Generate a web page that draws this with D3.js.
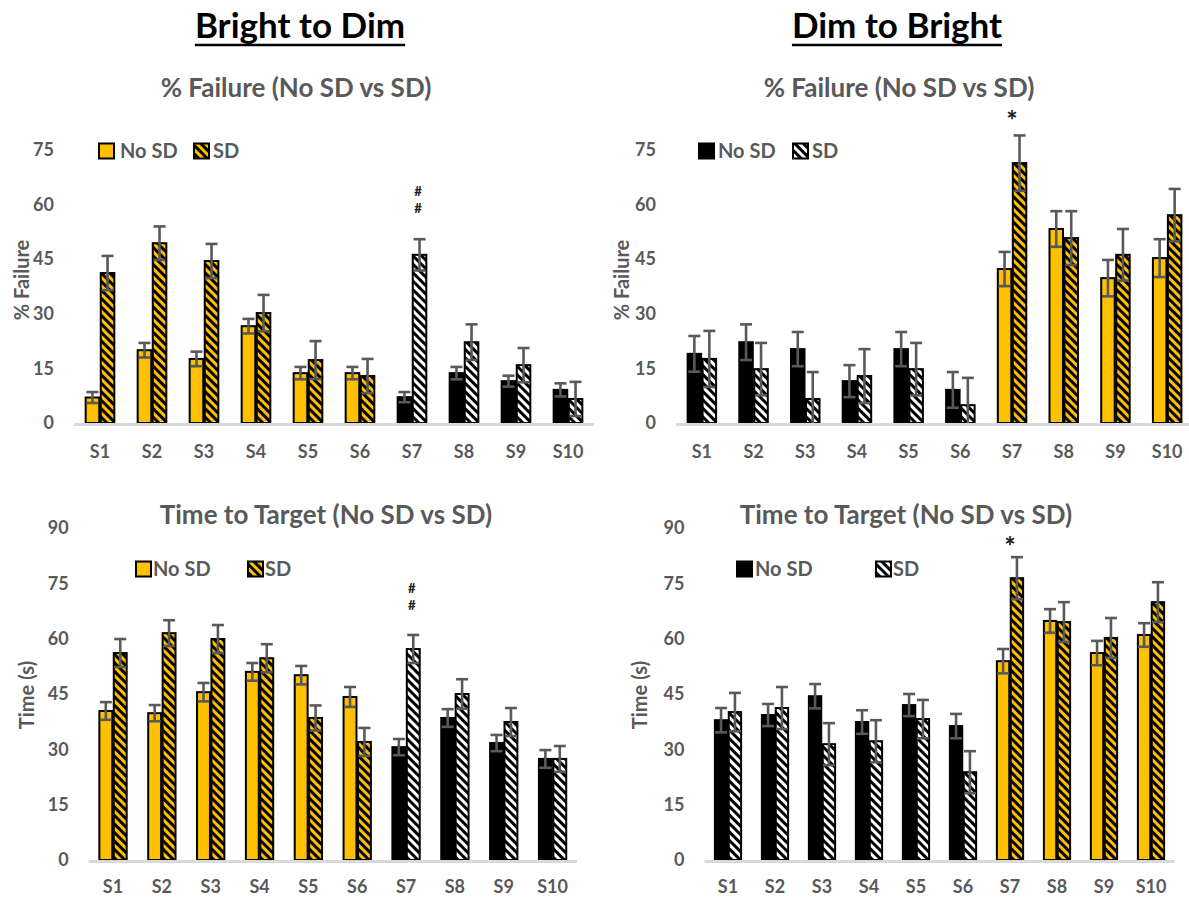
<!DOCTYPE html>
<html>
<head>
<meta charset="utf-8">
<script src="https://cdn.jsdelivr.net/npm/d3@7"></script>
<style>
  html, body { margin: 0; padding: 0; background: #fff; }
  svg { display: block; font-family: Lato, "Open Sans", sans-serif; }
</style>
</head>
<body>
<svg id="chart" width="1189" height="898"></svg>
<script>
// ---------- DATA ----------
const categories = ["S1","S2","S3","S4","S5","S6","S7","S8","S9","S10"];
const seriesNames = ["No SD","SD"];
const failureTicks = [0,15,30,45,60,75];
const timeTicks = [0,15,30,45,60,75,90];

// Bright to Dim – % Failure
const bdFailNoSD    = [7.0, 20.0, 17.6, 26.6, 13.7, 13.7, 7.1, 13.7, 11.5, 9.1];
const bdFailNoSDErr = [1.5, 2.0, 2.0, 2.0, 1.7, 1.7, 1.4, 1.7, 1.5, 1.8];
const bdFailSD      = [41.2, 49.4, 44.5, 30.2, 17.3, 12.9, 46.2, 22.2, 15.9, 6.6];
const bdFailSDErr   = [4.7, 4.6, 4.7, 5.0, 5.2, 4.7, 4.3, 4.9, 4.7, 4.7];

// Dim to Bright – % Failure
const dbFailNoSD    = [19.0, 22.2, 20.3, 11.5, 20.3, 9.1, 42.3, 53.3, 39.8, 45.3];
const dbFailNoSDErr = [4.9, 4.9, 4.7, 4.4, 4.7, 4.9, 4.7, 4.9, 5.0, 5.2];
const dbFailSD      = [17.6, 14.8, 6.6, 12.9, 14.8, 4.9, 71.4, 50.8, 46.2, 57.1];
const dbFailSDErr   = [7.7, 7.2, 7.4, 7.4, 7.2, 7.5, 7.6, 7.4, 7.1, 7.2];

// Bright to Dim – Time to Target
const bdTimeNoSD    = [40.4, 39.8, 45.5, 51.0, 50.1, 44.2, 30.6, 38.5, 31.7, 27.4];
const bdTimeNoSDErr = [2.4, 2.2, 2.5, 2.4, 2.5, 2.7, 2.2, 2.4, 2.2, 2.4];
const bdTimeSD      = [56.1, 61.5, 59.9, 54.7, 38.5, 32.0, 57.2, 45.0, 37.4, 27.4];
const bdTimeSDErr   = [3.8, 3.5, 3.8, 3.8, 3.4, 3.8, 3.8, 4.0, 3.8, 3.5];

// Dim to Bright – Time to Target
const dbTimeNoSD    = [37.9, 39.3, 44.4, 37.4, 42.0, 36.3, 53.9, 64.8, 56.1, 61.0];
const dbTimeNoSDErr = [3.3, 3.0, 3.3, 3.2, 3.0, 3.3, 3.3, 3.2, 3.3, 3.2];
const dbTimeSD      = [40.1, 41.2, 31.4, 32.2, 38.2, 23.8, 76.4, 64.5, 60.2, 69.9];
const dbTimeSDErr   = [5.2, 5.7, 5.7, 5.7, 5.2, 5.7, 5.7, 5.4, 5.4, 5.4];

// categories drawn in the orange style in each condition
const bdOrangeCats = ["S1","S2","S3","S4","S5","S6"];
const dbOrangeCats = ["S7","S8","S9","S10"];

// significance marks: [category, lines of label, value-position of first line]
const bdFailMarks = [["S7", ["#","#"], 63.8]];
const dbFailMarks = [["S7", ["*"], 83.8]];
const bdTimeMarks = [["S7", ["#","#"], 73.6]];
const dbTimeMarks = [["S7", ["*"], 85.6]];

// ---------- STYLE ----------
const ORANGE = "#FFC000";
const GREY_TXT = "#595959";
const ERR = "#595959";
const AXIS = "#d9d9d9";

const svg = d3.select("#chart");
const defs = svg.append("defs");
function stripe(id, bg) {
  const p = defs.append("pattern").attr("id", id)
    .attr("patternUnits", "userSpaceOnUse")
    .attr("width", 6).attr("height", 6)
    .attr("patternTransform", "rotate(45)");
  p.append("rect").attr("width", 6).attr("height", 6).attr("fill", bg);
  p.append("rect").attr("width", 6).attr("height", 3).attr("fill", "#000");
}
stripe("stripeOrange", ORANGE);
stripe("stripeWhite", "#fff");

// ---------- TITLES ----------
function title(text, cx, y) {
  const t = svg.append("text").attr("x", cx).attr("y", y)
    .attr("text-anchor", "middle").attr("font-size", 35).attr("font-weight", 700)
    .attr("fill", "#000").text(text);
  const w = t.node().getComputedTextLength();
  svg.append("line").attr("x1", cx - w/2).attr("x2", cx + w/2)
    .attr("y1", y + 7).attr("y2", y + 7).attr("stroke", "#000").attr("stroke-width", 2.5);
}
title("Bright to Dim", 300, 38);
title("Dim to Bright", 897, 38);

// ---------- PANELS ----------
const panels = [
  { x0: 74, x1: 594, yBase: 423, yTop: 150, dmax: 75, ticks: failureTicks, pad: 0.42,
    noSD: bdFailNoSD, noSDErr: bdFailNoSDErr, sd: bdFailSD, sdErr: bdFailSDErr,
    orange: bdOrangeCats, marks: bdFailMarks,
    title: "% Failure (No SD vs SD)", titleX: 296, titleY: 97,
    yLabel: "% Failure", yLabelX: 22, yLabelY: 280,
    legend: { y: 151, sw1: 99, t1: 120, sw2: 194, t2: 213 }, xLabY: 22 },
  { x0: 676, x1: 1193, yBase: 423, yTop: 150, dmax: 75, ticks: failureTicks, pad: 0.42,
    noSD: dbFailNoSD, noSDErr: dbFailNoSDErr, sd: dbFailSD, sdErr: dbFailSDErr,
    orange: dbOrangeCats, marks: dbFailMarks,
    title: "% Failure (No SD vs SD)", titleX: 899, titleY: 97,
    yLabel: "% Failure", yLabelX: 622, yLabelY: 280,
    legend: { y: 151, sw1: 699, t1: 718, sw2: 793, t2: 812 }, xLabY: 22 },
  { x0: 88.6, x1: 577, yBase: 860, yTop: 528, dmax: 90, ticks: timeTicks, pad: 0.41,
    noSD: bdTimeNoSD, noSDErr: bdTimeNoSDErr, sd: bdTimeSD, sdErr: bdTimeSDErr,
    orange: bdOrangeCats, marks: bdTimeMarks,
    title: "Time to Target (No SD vs SD)", titleX: 326, titleY: 524,
    yLabel: "Time (s)", yLabelX: 27, yLabelY: 695,
    legend: { y: 569, sw1: 136, t1: 153, sw2: 248, t2: 265 }, xLabY: 20 },
  { x0: 704.5, x1: 1174.5, yBase: 860, yTop: 528, dmax: 90, ticks: timeTicks, pad: 0.41,
    noSD: dbTimeNoSD, noSDErr: dbTimeNoSDErr, sd: dbTimeSD, sdErr: dbTimeSDErr,
    orange: dbOrangeCats, marks: dbTimeMarks,
    title: "Time to Target (No SD vs SD)", titleX: 906, titleY: 524,
    yLabel: "Time (s)", yLabelX: 640, yLabelY: 695,
    legend: { y: 569, sw1: 737, t1: 755, sw2: 876, t2: 893 }, xLabY: 20 }
];

panels.forEach(p => {
  const g = svg.append("g");
  const x = d3.scaleBand().domain(categories).range([p.x0, p.x1])
    .paddingInner(p.pad).paddingOuter(p.pad / 2);
  const xs = d3.scaleBand().domain(seriesNames).range([0, x.bandwidth()]);
  const y = d3.scaleLinear().domain([0, p.dmax]).range([p.yBase, p.yTop]);

  // subtitle
  g.append("text").attr("x", p.titleX).attr("y", p.titleY).attr("text-anchor", "middle")
    .attr("font-size", 26).attr("font-weight", 700).attr("fill", GREY_TXT).text(p.title);

  // y axis (labels only)
  const ya = g.append("g").attr("transform", `translate(${p.x0},0)`)
    .call(d3.axisLeft(y).tickValues(p.ticks).tickSize(0).tickPadding(20).tickFormat(d3.format("d")));
  ya.select(".domain").remove();
  ya.selectAll("text").attr("font-size", 18).attr("font-weight", 700).attr("fill", GREY_TXT)
    .attr("font-family", "Lato, sans-serif");

  // y label
  g.append("text").attr("transform", `translate(${p.yLabelX},${p.yLabelY}) rotate(-90)`)
    .attr("text-anchor", "middle").attr("dy", "0.35em")
    .attr("font-size", 20).attr("font-weight", 700).attr("fill", GREY_TXT).text(p.yLabel);

  // bars
  const rows = categories.map((c, i) => ({
    cat: c, orange: p.orange.includes(c),
    vals: [
      { s: "No SD", v: p.noSD[i], e: p.noSDErr[i] },
      { s: "SD", v: p.sd[i], e: p.sdErr[i] }
    ]
  }));
  const grp = g.selectAll(".grp").data(rows).enter().append("g")
    .attr("transform", d => `translate(${x(d.cat)},0)`);
  grp.selectAll("rect").data(d => d.vals.map(v => ({ ...v, orange: d.orange })))
    .enter().append("rect")
    .attr("x", d => xs(d.s) + 0.75).attr("width", xs.bandwidth() - 1.5)
    .attr("y", d => y(d.v)).attr("height", d => y(0) - y(d.v))
    .attr("fill", d => d.s === "No SD" ? (d.orange ? ORANGE : "#000")
                                       : (d.orange ? "url(#stripeOrange)" : "url(#stripeWhite)"))
    .attr("stroke", "#000").attr("stroke-width", 2);

  // axis baseline
  g.append("line").attr("x1", p.x0).attr("x2", p.x1).attr("y1", p.yBase + 1.5).attr("y2", p.yBase + 1.5)
    .attr("stroke", AXIS).attr("stroke-width", 3);

  // error bars
  const capW = 6;
  grp.each(function(d) {
    const gg = d3.select(this);
    d.vals.forEach(v => {
      const cx = xs(v.s) + xs.bandwidth() / 2;
      const lo = Math.max(0, v.v - v.e), hi = v.v + v.e;
      const eg = gg.append("g").attr("stroke", ERR).attr("stroke-width", 2.6);
      eg.append("line").attr("x1", cx).attr("x2", cx).attr("y1", y(lo)).attr("y2", y(hi));
      eg.append("line").attr("x1", cx - capW).attr("x2", cx + capW).attr("y1", y(hi)).attr("y2", y(hi));
      if (lo > 0) eg.append("line").attr("x1", cx - capW).attr("x2", cx + capW).attr("y1", y(lo)).attr("y2", y(lo));
    });
  });

  // x axis labels
  const xa = g.append("g").attr("transform", `translate(0,${p.yBase})`)
    .call(d3.axisBottom(x).tickSize(0).tickPadding(p.xLabY));
  xa.select(".domain").remove();
  xa.selectAll("text").attr("font-size", 18).attr("font-weight", 700).attr("fill", GREY_TXT)
    .attr("font-family", "Lato, sans-serif");

  // significance marks (one text per line; "#" kept small so lines don't collide)
  p.marks.forEach(d => {
    const isStar = d[1][0] === "*";
    const cx = x(d[0]) + x.bandwidth() * (isStar ? 0.5 : 0.7);
    d[1].forEach((s, i) => {
      g.append("text").attr("x", cx)
        .attr("y", y(d[2]) + (isStar ? 12 : 5) + i * 17)
        .attr("text-anchor", "middle").attr("font-weight", 900).attr("fill", "#222")
        .attr("font-size", isStar ? 26 : 13)
        .text(s);
    });
  });

  // legend
  const L = p.legend;
  const orangeLegend = p.orange.includes("S1");
  const lg = g.append("g");
  lg.append("rect").attr("x", L.sw1).attr("y", L.y - 7.5).attr("width", 15).attr("height", 15)
    .attr("fill", orangeLegend ? ORANGE : "#000").attr("stroke", "#000").attr("stroke-width", 2);
  lg.append("text").attr("x", L.t1).attr("y", L.y).attr("dy", "0.35em")
    .attr("font-size", 20).attr("font-weight", 700).attr("fill", GREY_TXT).text(seriesNames[0]);
  lg.append("rect").attr("x", L.sw2).attr("y", L.y - 7.5).attr("width", 15).attr("height", 15)
    .attr("fill", orangeLegend ? "url(#stripeOrange)" : "url(#stripeWhite)")
    .attr("stroke", "#000").attr("stroke-width", 2);
  lg.append("text").attr("x", L.t2).attr("y", L.y).attr("dy", "0.35em")
    .attr("font-size", 20).attr("font-weight", 700).attr("fill", GREY_TXT).text(seriesNames[1]);
});
</script>
</body>
</html>
